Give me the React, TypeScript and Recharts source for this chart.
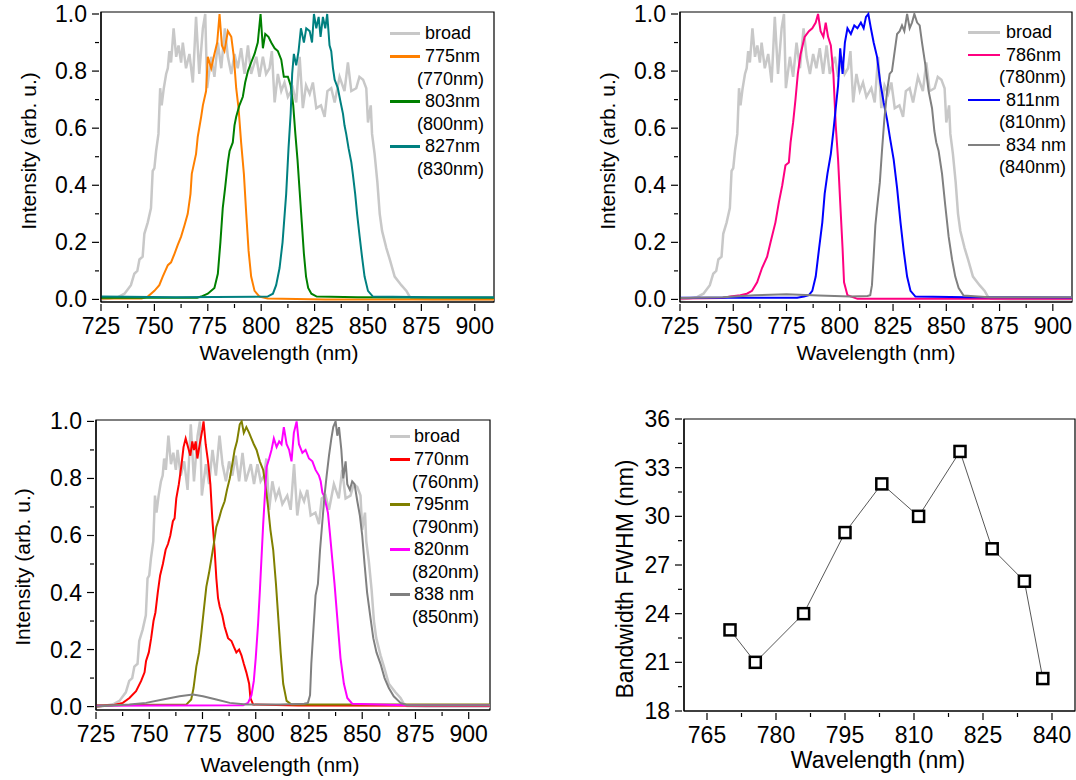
import React from 'react';
import { LineChart, Line, XAxis, YAxis, ReferenceArea } from 'recharts';

// wavelength (nm), normalised intensity
const broad = [[725,0],[729,0.003],[733,0.008],[736,0.02],[739,0.05],[740.6,0.09],[742,0.1],[743,0.14],[744.5,0.15],[745.3,0.23],[746.9,0.27],[748.4,0.32],[749.2,0.45],[750,0.46],[750.8,0.52],[751.9,0.58],[752.7,0.74],[753.4,0.68],[754.4,0.74],[755.5,0.79],[756.3,0.81],[757,0.87],[757.8,0.83],[759,0.95],[760.2,0.85],[761.3,0.89],[762.5,0.83],[763.3,0.9],[764.8,0.81],[766.4,0.86],[768,0.76],[769.5,0.99],[771,0.79],[772.7,0.95],[773.8,1.0],[774.7,0.74],[776.6,0.85],[778.1,0.78],[779.7,0.9],[781.3,0.81],[783,0.95],[784.4,0.85],[786,0.79],[787.5,0.86],[789,0.81],[790.6,0.88],[792.2,0.79],[793.8,0.89],[795.3,0.79],[797.7,0.85],[799.2,0.78],[800.8,0.85],[802.3,0.79],[803.9,0.81],[805,0.87],[806.3,0.69],[807.8,0.79],[809.4,0.73],[810.9,0.76],[812.5,0.71],[814.8,0.74],[816.4,0.69],[818,0.85],[819.5,0.67],[821,0.75],[822.7,0.72],[824.2,0.76],[825.8,0.67],[828,0.68],[829.7,0.64],[831,0.73],[832.8,0.74],[834.4,0.69],[836.7,0.78],[839,0.73],[840.6,0.83],[842.2,0.73],[844.5,0.74],[846,0.78],[847.7,0.77],[849.2,0.74],[850,0.62],[851.3,0.68],[851.9,0.58],[853.1,0.51],[854.4,0.41],[855.5,0.3],[856.6,0.24],[858.6,0.18],[860.2,0.14],[862.5,0.08],[865.6,0.05],[868,0.03],[869.5,0.01],[871,0.002],[880,0],[910,0]];

// panel a
const f775 = [[725,0.003],[744,0.003],[746.9,0.01],[750,0.03],[752.3,0.05],[753.9,0.08],[756.3,0.12],[757.8,0.13],[759.4,0.16],[760.9,0.19],[762.5,0.22],[764.1,0.26],[765.6,0.3],[766.9,0.37],[767.5,0.44],[769.5,0.51],[770.3,0.57],[771.9,0.64],[772.7,0.68],[774.2,0.73],[775,0.85],[776.6,0.81],[778.1,0.86],[779.4,0.9],[780.5,1.0],[781.6,0.89],[782.8,0.87],[784.4,0.94],[786,0.92],[787.2,0.85],[788.3,0.74],[789.4,0.67],[790.6,0.55],[791.9,0.44],[793,0.3],[794.1,0.17],[795.3,0.08],[796.9,0.03],[799.2,0.01],[803,0.003],[830,0],[910,0]];
const f803 = [[725,0.006],[770,0.006],[771.9,0.01],[775,0.02],[778.1,0.04],[779.7,0.09],[780.9,0.2],[782,0.32],[783.1,0.39],[784.4,0.48],[785.2,0.52],[786.7,0.55],[787.5,0.61],[788.3,0.64],[789.8,0.68],[791.4,0.71],[792.5,0.76],[793.8,0.8],[795.3,0.83],[796.9,0.86],[798.4,0.9],[799.7,1.0],[800.8,0.88],[801.9,0.93],[803.4,0.92],[804.7,0.9],[806.3,0.88],[807.8,0.87],[809.4,0.84],[810.6,0.78],[812.5,0.78],[813.8,0.75],[815,0.68],[816,0.58],[817,0.49],[818,0.38],[819,0.27],[820,0.16],[821,0.08],[822,0.04],[823.5,0.02],[826,0.01],[845,0.008],[910,0.006]];
const f827 = [[725,0.01],[760,0.008],[803,0.01],[805.5,0.02],[807,0.05],[808.6,0.11],[810,0.2],[811.7,0.37],[812.8,0.53],[813.8,0.65],[814.5,0.79],[815.3,0.86],[816.4,0.82],[817.5,0.87],[818.6,0.95],[820,0.9],[821.1,0.95],[822.7,0.94],[823.8,0.9],[824.7,1.0],[825.8,0.95],[826.9,0.99],[827.8,0.92],[828.9,0.99],[830,0.95],[830.9,1.0],[832,0.89],[832.8,0.87],[833.6,0.81],[834.4,0.77],[835.9,0.74],[837.2,0.69],[838.3,0.65],[839,0.61],[839.8,0.58],[840.9,0.53],[842.2,0.48],[842.9,0.44],[844,0.37],[844.9,0.3],[846.1,0.22],[847.2,0.15],[848.4,0.08],[850,0.03],[852.3,0.01],[880,0.008],[910,0.008]];

// panel b
const f786 = [[725,0.003],[745,0.005],[748.6,0.01],[753.3,0.015],[756.4,0.02],[758.8,0.03],[761.2,0.06],[763.5,0.11],[765.9,0.15],[767.5,0.2],[769.8,0.27],[771.4,0.34],[773,0.4],[774.5,0.47],[776.1,0.48],[776.9,0.55],[778.1,0.62],[779.2,0.7],[780.3,0.79],[781.6,0.86],[783.5,0.92],[785.5,0.94],[787.1,0.95],[788.7,0.97],[789.8,1.0],[791,0.94],[792.3,0.92],[793.4,0.97],[794.5,0.92],[795.8,0.89],[797,0.79],[798.1,0.61],[799.2,0.49],[800.2,0.34],[801.3,0.18],[802,0.06],[803.6,0.015],[808.3,0.002],[910,0.002]];
const f811 = [[725,0.006],[780,0.006],[783.2,0.01],[785.5,0.015],[787.1,0.03],[788.7,0.08],[790.3,0.18],[791.8,0.27],[792.9,0.37],[794.2,0.44],[795.8,0.51],[797,0.59],[798.1,0.67],[799.2,0.75],[800.2,0.88],[801.3,0.79],[802.4,0.9],[803.6,0.95],[805.2,0.93],[806.8,0.96],[808.3,0.95],[809.9,0.97],[811.2,0.95],[812.3,0.99],[813.4,1.0],[814.6,0.95],[815.9,0.9],[817.5,0.85],[819,0.76],[820.6,0.69],[822.2,0.63],[823.7,0.56],[825.3,0.49],[826.9,0.39],[828.5,0.27],[830,0.17],[831.6,0.08],[833.2,0.03],[835.5,0.01],[860,0.008],[910,0.007]];
const f834 = [[725,0.005],[745,0.008],[760,0.015],[775,0.018],[790,0.014],[805,0.01],[813,0.012],[814.3,0.015],[815.1,0.05],[815.9,0.15],[816.7,0.26],[817.5,0.32],[818.8,0.41],[819.8,0.52],[820.9,0.63],[822.2,0.73],[823.4,0.79],[824.5,0.8],[825.6,0.86],[826.9,0.93],[828.1,0.94],[829.2,0.96],[830.3,0.94],[831.6,1.0],[832.8,0.95],[833.9,0.97],[835,1.0],[836.3,0.97],[837.5,0.96],[838.6,0.9],[840.2,0.82],[841.7,0.73],[843.3,0.67],[844.4,0.59],[845.3,0.55],[846.4,0.52],[848,0.44],[849.5,0.33],[851.1,0.22],[852.7,0.14],[854.2,0.08],[855.8,0.04],[858.1,0.014],[870,0.008],[910,0.008]];

// panel c
const f770 = [[725,0],[732.8,0.005],[737.6,0.013],[740.7,0.03],[743.8,0.054],[746.2,0.09],[747.8,0.12],[748.5,0.16],[749.8,0.19],[750.9,0.24],[752,0.3],[752.9,0.33],[754,0.4],[755.1,0.46],[756.4,0.5],[757.7,0.55],[758.8,0.57],[759.9,0.6],[761.1,0.65],[761.9,0.66],[762.7,0.73],[763.9,0.78],[765,0.84],[766.1,0.91],[767.1,0.94],[768.2,0.91],[769.3,0.88],[770.2,0.93],[771,0.9],[771.8,0.93],[772.6,0.87],[773.7,0.92],[774.9,0.97],[775.5,1.0],[776.5,0.92],[777.6,0.86],[778.7,0.78],[779.6,0.66],[780.7,0.55],[781.5,0.45],[782.3,0.38],[783.1,0.35],[784.3,0.32],[785.4,0.28],[787,0.24],[788.6,0.23],[789.7,0.21],[790.9,0.19],[792.2,0.2],[793.3,0.18],[794.4,0.15],[795.6,0.12],[796.9,0.08],[797.5,0.03],[798.8,0.007],[820,0.004],[910,0.003]];
const f795 = [[725,0.005],[767.4,0.007],[769.7,0.025],[770.8,0.065],[772.1,0.14],[773.4,0.19],[774.5,0.26],[775.5,0.33],[776.8,0.42],[778.1,0.47],[779.2,0.52],[780.3,0.57],[781.5,0.63],[782.8,0.66],[783.9,0.69],[785.4,0.72],[786.5,0.76],[787.8,0.8],[789,0.85],[790.1,0.9],[791.2,0.93],[792.5,0.99],[793.4,1.0],[794.4,0.96],[795.6,0.98],[796.9,0.96],[798,0.94],[799.1,0.92],[800.4,0.9],[801.9,0.86],[803.5,0.83],[804.7,0.77],[805.8,0.7],[806.9,0.62],[808.2,0.55],[809.5,0.43],[810.6,0.31],[811.7,0.19],[812.9,0.08],[814.5,0.02],[816.8,0.007],[910,0.007]];
const f820 = [[725,0.003],[794.1,0.005],[796.4,0.013],[798,0.04],[799.1,0.09],[800,0.17],[801.1,0.29],[801.9,0.4],[802.7,0.52],[803.5,0.64],[804.3,0.74],[805.1,0.84],[806.3,0.87],[807.4,0.9],[808.5,0.94],[809.8,0.91],[811,0.93],[812.1,0.92],[813.2,0.98],[814.5,0.92],[815.7,0.9],[816.8,0.86],[817.9,0.96],[819.2,1.0],[820.3,0.92],[821.9,0.89],[823.4,0.9],[825,0.87],[826.6,0.86],[828.1,0.83],[829.7,0.81],[830.5,0.79],[831.3,0.75],[832,0.74],[833.3,0.7],[833.9,0.68],[834.8,0.61],[835.9,0.52],[837,0.43],[838.3,0.31],[839.8,0.17],[841.4,0.08],[843,0.03],[845.3,0.01],[870,0.005],[910,0.005]];
const f838 = [[725,0],[740.7,0.007],[748.5,0.013],[756.4,0.025],[764.2,0.036],[770.5,0.042],[775.2,0.036],[781.5,0.025],[787.8,0.013],[795.6,0.007],[811.3,0.007],[822.7,0.01],[824.5,0.013],[825.5,0.04],[826.1,0.15],[827,0.26],[828.1,0.39],[829.2,0.43],[830.2,0.55],[831.3,0.65],[832.3,0.74],[833.3,0.81],[834.4,0.88],[835.5,0.94],[836.4,0.98],[837.5,1.0],[838.3,0.95],[839.1,0.98],[840.2,0.9],[841.1,0.8],[842.2,0.86],[843,0.78],[844.2,0.76],[845.3,0.79],[846.4,0.78],[847.7,0.72],[848.9,0.67],[850,0.6],[851.1,0.5],[852.3,0.4],[853.9,0.31],[855.2,0.24],[856.7,0.19],[858.6,0.15],[860.5,0.1],[862.5,0.065],[864.8,0.036],[868,0.013],[871.1,0.005],[910,0.005]];

// panel d: bandwidth vs centre wavelength
const bwWavelength = [770, 775.5, 786, 795, 803, 811, 820, 827, 834, 838];
const bwFwhm = [23, 21, 24, 29, 32, 30, 34, 28, 26, 20];

const specTicks = [725, 737.5, 750, 762.5, 775, 787.5, 800, 812.5, 825, 837.5, 850, 862.5, 875, 887.5, 900];
const specMajor = [725, 750, 775, 800, 825, 850, 875, 900];
const intTicks = [0, 0.1, 0.2, 0.3, 0.4, 0.5, 0.6, 0.7, 0.8, 0.9, 1.0];
const intMajor = [0, 0.2, 0.4, 0.6, 0.8, 1.0];
const bwXTicks = [765, 772.5, 780, 787.5, 795, 802.5, 810, 817.5, 825, 832.5, 840];
const bwXMajor = [765, 780, 795, 810, 825, 840];
const bwYTicks = [18, 19.5, 21, 22.5, 24, 25.5, 27, 28.5, 30, 31.5, 33, 34.5, 36];
const bwYMajor = [18, 21, 24, 27, 30, 33, 36];

const FONT = '"Liberation Sans", Arial, sans-serif';
const pts = (a: number[][]) => a.map(([x, y]) => ({ x, y }));

const XTick = ({ x, y, payload, majors, size = 23 }: any) => {
  const major = majors.includes(payload.value);
  return (
    <g>
      <line x1={x} x2={x} y1={y} y2={y + (major ? 7 : 4)} stroke="#000" strokeWidth={1.2} />
      {major && (
        <text x={x} y={y + 30} textAnchor="middle" fontSize={size} fontFamily={FONT} fill="#000">
          {payload.value}
        </text>
      )}
    </g>
  );
};

const YTick = ({ x, y, payload, majors, digits, size = 23 }: any) => {
  const major = majors.includes(payload.value);
  return (
    <g>
      <line x1={x - (major ? 7 : 4)} x2={x} y1={y} y2={y} stroke="#000" strokeWidth={1.2} />
      {major && (
        <text x={x - 12} y={y + 8} textAnchor="end" fontSize={size} fontFamily={FONT} fill="#000">
          {payload.value.toFixed(digits)}
        </text>
      )}
    </g>
  );
};

function SpectrumPanel({ left, top, width, margin, xMax, yDomain, series }: any) {
  return (
    <div style={{ position: 'absolute', left, top }}>
      <LineChart width={width} height={380} margin={margin}>
        <XAxis
          dataKey="x" type="number" domain={[725, xMax]} allowDataOverflow
          ticks={specTicks} interval={0} height={40} tickSize={0} tickLine={false}
          axisLine={{ stroke: '#000', strokeWidth: 1.2 }}
          tick={(p: any) => <XTick {...p} majors={specMajor} />}
        />
        <YAxis
          dataKey="y" type="number" domain={yDomain} allowDataOverflow
          ticks={intTicks} interval={0} width={60} tickSize={0} tickLine={false}
          axisLine={{ stroke: '#000', strokeWidth: 1.2 }}
          tick={(p: any) => <YTick {...p} majors={intMajor} digits={1} />}
        />
        <Line data={pts(broad)} dataKey="y" stroke="#c8c8c8" strokeWidth={2.5} dot={false} isAnimationActive={false} />
        {series.map((s: any) => (
          <Line key={s.name} data={pts(s.data)} dataKey="y" stroke={s.color} strokeWidth={2} dot={false} isAnimationActive={false} />
        ))}
        <ReferenceArea x1={725} x2={xMax} y1={yDomain[0]} y2={yDomain[1]} fill="none" stroke="#000" strokeWidth={1.2} />
      </LineChart>
    </div>
  );
}

function Legend({ x, lineW, textX, subX, rows, series }: any) {
  const items: any[] = [{ name: 'broad', color: '#c8c8c8' }, ...series];
  const out: any[] = [];
  let r = 0;
  items.forEach((s) => {
    const cy = rows[r++];
    out.push(<div key={s.name + 'l'} style={{ position: 'absolute', left: x, top: cy - 1, width: lineW, height: 2.5, background: s.color }} />);
    out.push(<div key={s.name + 't'} style={{ position: 'absolute', left: textX, top: cy - 11, lineHeight: '22px', fontSize: 18, whiteSpace: 'nowrap' }}>{s.name}</div>);
    if (s.sub) {
      const cy2 = rows[r++];
      out.push(<div key={s.name + 's'} style={{ position: 'absolute', left: subX, top: cy2 - 11, lineHeight: '22px', fontSize: 18, whiteSpace: 'nowrap' }}>{s.sub}</div>);
    }
  });
  return <>{out}</>;
}

const Title = ({ x, y, text, rotate, size = 21 }: any) => (
  <div style={{
    position: 'absolute', left: x, top: y, fontSize: size, whiteSpace: 'nowrap', lineHeight: 1,
    transform: `translate(-50%, -50%)${rotate ? ' rotate(-90deg)' : ''}`,
  }}>{text}</div>
);

const seriesA = [
  { name: '775nm', sub: '(770nm)', color: '#ff8000', data: f775 },
  { name: '803nm', sub: '(800nm)', color: '#008000', data: f803 },
  { name: '827nm', sub: '(830nm)', color: '#008080', data: f827 },
];
const seriesB = [
  { name: '786nm', sub: '(780nm)', color: '#ff0080', data: f786 },
  { name: '811nm', sub: '(810nm)', color: '#0000ff', data: f811 },
  { name: '834 nm', sub: '(840nm)', color: '#808080', data: f834 },
];
const seriesC = [
  { name: '770nm', sub: '(760nm)', color: '#ff0000', data: f770 },
  { name: '795nm', sub: '(790nm)', color: '#808000', data: f795 },
  { name: '820nm', sub: '(820nm)', color: '#ff00ff', data: f820 },
  { name: '838 nm', sub: '(850nm)', color: '#808080', data: f838 },
];

const Square = ({ cx, cy }: any) => (
  <rect x={cx - 5.5} y={cy - 5.5} width={11} height={11} fill="#fff" stroke="#000" strokeWidth={2.5} />
);

export default function App() {
  const bwData = bwWavelength.map((x, i) => ({ x, y: bwFwhm[i] }));
  return (
    <div style={{ position: 'relative', width: 1076, height: 780, background: '#fff', overflow: 'hidden', fontFamily: FONT, color: '#000' }}>
      <style>{'body{margin:0}'}</style>

      <SpectrumPanel left={0} top={0} width={500} xMax={909} yDomain={[-0.009, 1.007]}
        margin={{ top: 12, right: 6, bottom: 38, left: 41 }} series={seriesA} />
      <SpectrumPanel left={580} top={0} width={496} xMax={909} yDomain={[-0.009, 1.007]}
        margin={{ top: 12, right: 4, bottom: 38, left: 40 }} series={seriesB} />
      <SpectrumPanel left={0} top={400} width={500} xMax={910} yDomain={[-0.012, 1.005]}
        margin={{ top: 20, right: 10, bottom: 30, left: 36 }} series={seriesC} />

      <div style={{ position: 'absolute', left: 580, top: 400 }}>
        <LineChart width={496} height={380} data={bwData} margin={{ top: 19, right: 1, bottom: 29, left: 44 }}>
          <XAxis
            dataKey="x" type="number" domain={[760, 845]} allowDataOverflow
            ticks={bwXTicks} interval={0} height={40} tickSize={0} tickLine={false}
            axisLine={{ stroke: '#000', strokeWidth: 1.2 }}
            tick={(p: any) => <XTick {...p} majors={bwXMajor} />}
          />
          <YAxis
            dataKey="y" type="number" domain={[18, 36]} allowDataOverflow
            ticks={bwYTicks} interval={0} width={60} tickSize={0} tickLine={false}
            axisLine={{ stroke: '#000', strokeWidth: 1.2 }}
            tick={(p: any) => <YTick {...p} majors={bwYMajor} digits={0} />}
          />
          <Line dataKey="y" stroke="#444" strokeWidth={0.9} dot={<Square />} isAnimationActive={false} />
          <ReferenceArea x1={760} x2={845} y1={18} y2={36} fill="none" stroke="#000" strokeWidth={1.2} />
        </LineChart>
      </div>

      <Legend x={390} lineW={30} textX={425} subX={417} rows={[33, 56, 79, 101, 124, 146, 169]} series={seriesA} />
      <Legend x={968} lineW={32} textX={1006} subX={999} rows={[32, 54.5, 77, 99.5, 122, 144.5, 167]} series={seriesB} />
      <Legend x={390} lineW={20} textX={414} subX={412} rows={[436, 459, 482, 504, 527, 549, 572, 594, 617]} series={seriesC} />

      <Title x={27.5} y={151} text="Intensity (arb. u.)" rotate />
      <Title x={279} y={352} text="Wavelength (nm)" />
      <Title x={607} y={151} text="Intensity (arb. u.)" rotate />
      <Title x={876} y={352} text="Wavelength (nm)" />
      <Title x={22} y={567} text="Intensity (arb. u.)" rotate />
      <Title x={280} y={764} text="Wavelength (nm)" />
      <Title x={625} y={579} text="Bandwidth FWHM (nm)" rotate size={23} />
      <Title x={878} y={760} text="Wavelength (nm)" size={23} />
    </div>
  );
}
